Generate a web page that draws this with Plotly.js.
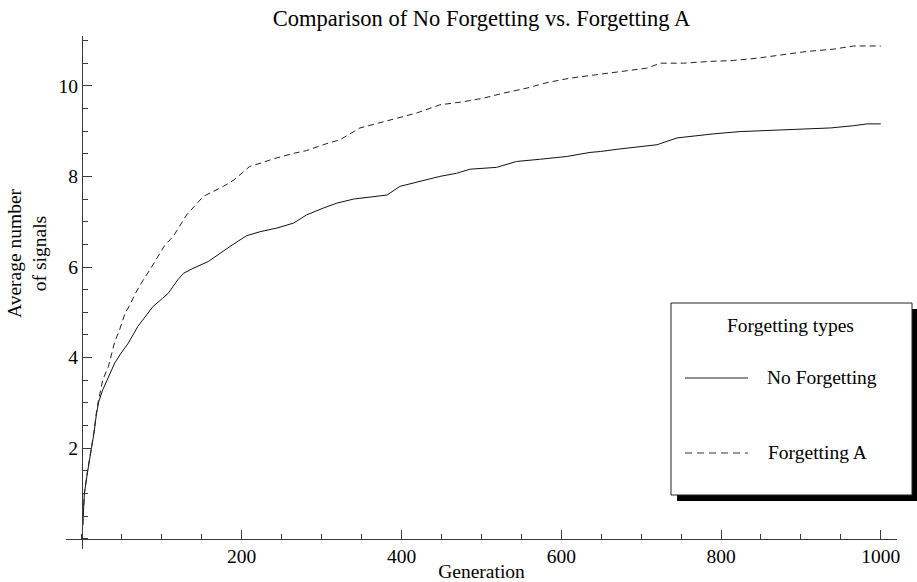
<!DOCTYPE html>
<html>
<head>
<meta charset="utf-8">
<script src="https://cdn.plot.ly/plotly-3.0.1.min.js"></script>
<style>html,body{margin:0;padding:0;background:#fff;}#chart{width:917px;height:582px;}</style>
</head>
<body>
<div id="chart"></div>
<script>
// ---- data ----
const genNoForgetting = [1, 3, 7, 12, 15, 18, 21, 26, 33, 41, 49, 58, 70, 80, 89, 101, 108, 114, 120, 127, 139, 158, 173, 185, 198, 206, 223, 244, 265, 281, 302, 319, 340, 365, 382, 398, 428, 448, 469, 486, 519, 544, 574, 607, 636, 649, 670, 682, 720, 745, 770, 791, 824, 858, 899, 937, 966, 983, 1000];
const valNoForgetting = [0.3, 1.0, 1.48, 2.0, 2.33, 2.74, 3.03, 3.29, 3.58, 3.88, 4.1, 4.32, 4.69, 4.91, 5.13, 5.31, 5.42, 5.57, 5.72, 5.86, 5.97, 6.12, 6.31, 6.45, 6.6, 6.69, 6.78, 6.86, 6.97, 7.15, 7.3, 7.41, 7.5, 7.56, 7.59, 7.78, 7.91, 8.0, 8.07, 8.16, 8.2, 8.33, 8.38, 8.44, 8.53, 8.55, 8.6, 8.62, 8.7, 8.85, 8.9, 8.94, 8.99, 9.01, 9.04, 9.07, 9.12, 9.16, 9.16];

const genForgettingA = [1, 3, 7, 12, 15, 18, 20, 26, 33, 41, 47, 54, 60, 66, 74, 85, 104, 114, 131, 152, 164, 177, 190, 210, 223, 240, 265, 281, 302, 323, 348, 377, 394, 419, 448, 478, 503, 528, 557, 582, 611, 640, 670, 707, 724, 753, 787, 816, 845, 874, 908, 941, 966, 1000];
const valForgettingA = [0.3, 1.0, 1.5, 2.02, 2.36, 2.78, 3.0, 3.51, 3.8, 4.35, 4.61, 4.98, 5.16, 5.39, 5.64, 5.94, 6.49, 6.67, 7.15, 7.56, 7.67, 7.78, 7.92, 8.22, 8.29, 8.39, 8.51, 8.57, 8.7, 8.81, 9.07, 9.21, 9.29, 9.4, 9.58, 9.65, 9.73, 9.84, 9.95, 10.07, 10.17, 10.24, 10.3, 10.39, 10.5, 10.5, 10.54, 10.56, 10.61, 10.68, 10.76, 10.81, 10.88, 10.88];

const xTickVals = [200, 400, 600, 800, 1000];
const yTickVals = [2, 4, 6, 8, 10];
const seriesNames = ["No Forgetting", "Forgetting A"];
const chartTitle = "Comparison of No Forgetting vs. Forgetting A";
const xTitle = "Generation";
const yTitle = "Average number<br>of signals";
const legendTitle = "Forgetting types";

// ---- layout geometry ----
const W = 917, H = 582;
const M = {l: 66, r: 20, t: 36, b: 33};
const PW = W - M.l - M.r, PH = H - M.t - M.b;
const xRange = [-20, 1020.3];
const yRange = [-0.225, 11.1];
const px = v => (v - M.l) / PW;          // pixel x -> paper x
const py = v => (H - M.b - v) / PH;      // pixel y -> paper y
const FONT = "Liberation Serif, Times New Roman, serif";
const AX = "#3a3a3a";

const traces = [
  {x: genNoForgetting, y: valNoForgetting, name: seriesNames[0], type: "scatter", mode: "lines",
   line: {color: "#111", width: 1}},
  {x: genForgettingA, y: valForgettingA, name: seriesNames[1], type: "scatter", mode: "lines",
   line: {color: "#222", width: 1, dash: "6px,4px"}}
];

// legend box geometry (pixels)
const LB = {x0: 671, y0: 303, x1: 912, y1: 495};
const SH = 6;

const layout = {
  width: W, height: H,
  margin: M,
  paper_bgcolor: "#fff", plot_bgcolor: "#fff",
  showlegend: false,
  font: {family: FONT, size: 19, color: "#000"},
  title: {text: chartTitle, font: {family: FONT, size: 22.5, color: "#000"},
          x: 0.5, xref: "paper", xanchor: "center", y: 1 - 18 / H, yref: "container", yanchor: "middle"},
  xaxis: {
    range: xRange, anchor: "free", position: (0 - yRange[0]) / (yRange[1] - yRange[0]),
    showgrid: false, zeroline: false, showline: true, linecolor: AX, linewidth: 1,
    tickmode: "array", tickvals: xTickVals, ticks: "inside", ticklen: 9, tickcolor: AX, tickwidth: 1,
    tickfont: {family: FONT, size: 19.5, color: "#000"},
    minor: {tickmode: "linear", tick0: 0, dtick: 50, ticks: "inside", ticklen: 5, tickcolor: AX, tickwidth: 1, showgrid: false},
    title: {text: xTitle, font: {family: FONT, size: 19.5, color: "#000"}, standoff: 0}
  },
  yaxis: {
    range: yRange, anchor: "free", position: (0 - xRange[0]) / (xRange[1] - xRange[0]),
    showgrid: false, zeroline: false, showline: true, linecolor: AX, linewidth: 1,
    tickmode: "array", tickvals: yTickVals, ticks: "inside", ticklen: 9, tickcolor: AX, tickwidth: 1,
    tickfont: {family: FONT, size: 19.5, color: "#000"},
    minor: {tickmode: "linear", tick0: 0, dtick: 0.5, ticks: "inside", ticklen: 5, tickcolor: AX, tickwidth: 1, showgrid: false}
  },
  shapes: [
    {type: "rect", xref: "paper", yref: "paper", x0: px(LB.x0 + SH), x1: px(LB.x1 + SH), y0: py(LB.y1 + SH), y1: py(LB.y0 + SH),
     fillcolor: "#000", line: {width: 0}, layer: "above"},
    {type: "rect", xref: "paper", yref: "paper", x0: px(LB.x0), x1: px(LB.x1), y0: py(LB.y1), y1: py(LB.y0),
     fillcolor: "#fff", line: {color: "#222", width: 1}, layer: "above"},
    {type: "line", xref: "paper", yref: "paper", x0: px(685), x1: px(748), y0: py(378), y1: py(378),
     line: {color: "#222", width: 1}, layer: "above"},
    {type: "line", xref: "paper", yref: "paper", x0: px(685), x1: px(748), y0: py(453), y1: py(453),
     line: {color: "#333", width: 1, dash: "7px,5px"}, layer: "above"}
  ],
  annotations: [
    {text: yTitle, xref: "paper", yref: "paper", x: px(27), y: py(253), xanchor: "center", yanchor: "middle",
     textangle: -90, showarrow: false, font: {family: FONT, size: 19.5, color: "#000"}},
    {text: legendTitle, xref: "paper", yref: "paper", x: px(790), y: py(325), xanchor: "center", yanchor: "middle",
     showarrow: false, font: {family: FONT, size: 19.5, color: "#000"}},
    {text: seriesNames[0], xref: "paper", yref: "paper", x: px(765), y: py(377), xanchor: "left", yanchor: "middle",
     showarrow: false, font: {family: FONT, size: 19.5, color: "#000"}},
    {text: seriesNames[1], xref: "paper", yref: "paper", x: px(766), y: py(452), xanchor: "left", yanchor: "middle",
     showarrow: false, font: {family: FONT, size: 19.5, color: "#000"}}
  ]
};

Plotly.newPlot("chart", traces, layout, {displayModeBar: false, staticPlot: true});
</script>
</body>
</html>
